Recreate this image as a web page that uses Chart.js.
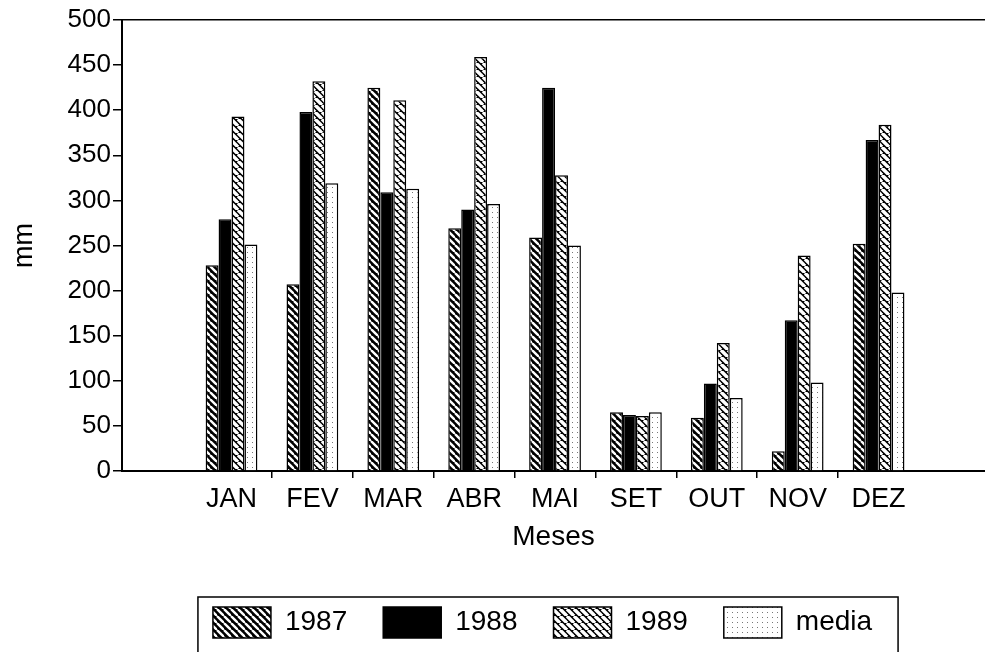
<!DOCTYPE html>
<html>
<head>
<meta charset="utf-8">
<script src="https://cdn.jsdelivr.net/npm/chart.js@4/dist/chart.umd.min.js"></script>
<style>
  html, body { margin: 0; padding: 0; background: #fff; }
  #wrap { width: 985px; height: 652px; }
</style>
</head>
<body>
<div id="wrap"><canvas id="myChart"></canvas></div>
<script>
const months = ['JAN', 'FEV', 'MAR', 'ABR', 'MAI', 'SET', 'OUT', 'NOV', 'DEZ'];
const rain1987 = [228, 207, 425, 269, 259, 65, 59, 22, 252];
const rain1988 = [279, 398, 309, 290, 425, 62, 97, 167, 367];
const rain1989 = [393, 432, 411, 459, 328, 61, 142, 239, 384];
const rainMedia = [251, 319, 313, 296, 250, 65, 81, 98, 198];
const yTicks = [0, 50, 100, 150, 200, 250, 300, 350, 400, 450, 500];

// the month axis has empty room on both sides in the original
const xMin = -1.354;
const xMax = 9.316;

// hatch fills, like the old printed chart
function hatch(size, lineW) {
    const c = document.createElement('canvas');
    c.width = size;
    c.height = size;
    const g = c.getContext('2d');
    g.fillStyle = '#000';
    g.fillRect(0, 0, size, size);
    g.strokeStyle = '#fff';
    g.lineWidth = lineW;
    for (let k = -1; k <= 1; k++) {
        g.beginPath();
        g.moveTo(k * size, 0);
        g.lineTo(k * size + size, size);
        g.stroke();
    }
    return g.createPattern(c, 'repeat');
}

function dots() {
    const c = document.createElement('canvas');
    c.width = 5;
    c.height = 5;
    const g = c.getContext('2d');
    g.fillStyle = '#fff';
    g.fillRect(0, 0, 5, 5);
    g.fillStyle = '#777';
    g.fillRect(2, 2, 1, 1);
    return g.createPattern(c, 'repeat');
}

const toPoints = arr => arr.map((v, i) => ({ x: i, y: v }));

function fixRange(scale) {
    scale.min = xMin;
    scale.max = xMax;
}

Chart.defaults.font.family = "'Liberation Sans', Arial, sans-serif";
Chart.defaults.color = '#000';

// legend sits a bit left of centre in the original, and has a frame
const legendFrame = {
    id: 'legendFrame',
    afterLayout(chart) {
        chart.legend.left -= 22;
    },
    afterDraw(chart) {
        const lg = chart.legend;
        const hb = lg.legendHitBoxes;
        if (!hb || !hb.length) return;
        const last = hb[hb.length - 1];
        const x0 = hb[0].left - 15;
        const x1 = last.left + last.width + 26;
        const ctx = chart.ctx;
        ctx.save();
        ctx.strokeStyle = '#000';
        ctx.lineWidth = 1.5;
        ctx.strokeRect(x0, lg.top + 26, x1 - x0, chart.height);
        ctx.restore();
    }
};

const data = {
    datasets: [
        { label: '1987', data: toPoints(rain1987), backgroundColor: hatch(7, 2.4), borderColor: '#000', borderWidth: 1.5 },
        { label: '1988', data: toPoints(rain1988), backgroundColor: '#000', borderColor: '#000', borderWidth: 1.5 },
        { label: '1989', data: toPoints(rain1989), backgroundColor: hatch(7, 3.4), borderColor: '#000', borderWidth: 1.5 },
        { label: 'media', data: toPoints(rainMedia), backgroundColor: dots(), borderColor: '#000', borderWidth: 1.5 }
    ]
};

const config = {
    type: 'bar',
    data: data,
    options: {
        responsive: true,
        maintainAspectRatio: false,
        animation: false,
        layout: {
            padding: { top: 20, right: 0, bottom: 4, left: 0 }
        },
        datasets: {
            bar: {
                categoryPercentage: 0.64,
                barPercentage: 1.0
            }
        },
        scales: {
            x: {
                type: 'linear',
                position: 'bottom',
                bounds: 'data',
                offset: false,
                weight: 0,
                min: xMin,
                max: xMax,
                afterBuildTicks: scale => {
                    scale.ticks = months.slice(1).map((m, i) => ({ value: i + 0.5 }));
                    fixRange(scale);
                },
                ticks: { display: false },
                grid: { offset: false, drawOnChartArea: false, color: '#000', lineWidth: 1.5, tickLength: 7 },
                border: { color: '#000', width: 2 }
            },
            x2: {
                type: 'linear',
                position: 'bottom',
                bounds: 'data',
                offset: false,
                weight: 1,
                min: xMin,
                max: xMax,
                afterBuildTicks: scale => {
                    scale.ticks = months.map((m, i) => ({ value: i }));
                    fixRange(scale);
                },
                ticks: {
                    autoSkip: false,
                    maxRotation: 0,
                    padding: 5,
                    font: { size: 27 },
                    callback: v => months[v]
                },
                grid: { offset: false, display: false, drawTicks: false },
                border: { display: false },
                title: {
                    display: true,
                    text: 'Meses',
                    font: { size: 28 },
                    padding: { top: 0, bottom: 17 }
                }
            },
            xTop: {
                type: 'linear',
                position: 'top',
                bounds: 'data',
                offset: false,
                min: xMin,
                max: xMax,
                afterBuildTicks: fixRange,
                ticks: { display: false },
                grid: { offset: false, display: false, drawTicks: false },
                border: { color: '#000', width: 1.5 }
            },
            y: {
                min: 0,
                max: 500,
                afterBuildTicks: scale => {
                    scale.ticks = yTicks.map(v => ({ value: v }));
                },
                afterFit: scale => {
                    scale.width = 122;
                },
                ticks: { font: { size: 26 }, padding: 2 },
                grid: { drawOnChartArea: false, color: '#000', lineWidth: 1.5, tickLength: 9 },
                border: { color: '#000', width: 2 },
                title: {
                    display: true,
                    text: 'mm',
                    font: { size: 27 },
                    padding: 8
                }
            }
        },
        plugins: {
            legend: {
                position: 'bottom',
                fullSize: false,
                labels: {
                    boxWidth: 58,
                    boxHeight: 31,
                    padding: 36,
                    font: { size: 28 }
                }
            },
            tooltip: { enabled: false }
        }
    },
    plugins: [legendFrame]
};

var myChart = new Chart(
    document.getElementById('myChart'),
    config
);
</script>
</body>
</html>
